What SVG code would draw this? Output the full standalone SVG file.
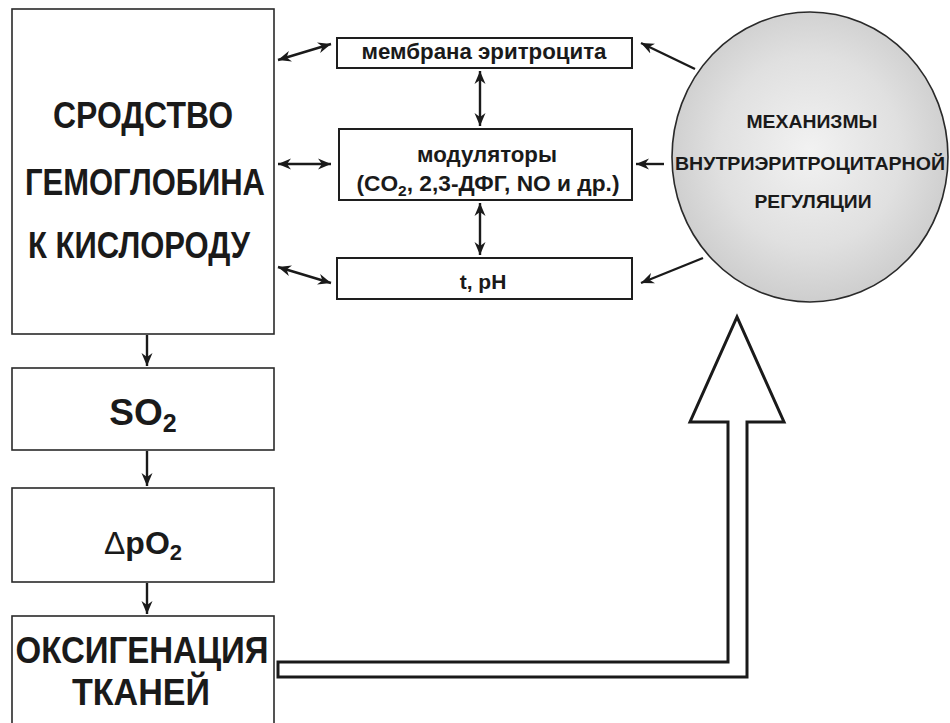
<svg xmlns="http://www.w3.org/2000/svg" width="950" height="723" viewBox="0 0 950 723">
  <defs>
    <radialGradient id="gCircle" cx="50%" cy="48%" r="55%">
      <stop offset="0" stop-color="#f2f2f2"/>
      <stop offset="0.6" stop-color="#e0e0e0"/>
      <stop offset="1" stop-color="#cbcbcb"/>
    </radialGradient>
    <marker id="arr" markerUnits="userSpaceOnUse" markerWidth="14" markerHeight="12" refX="13" refY="6" orient="auto-start-reverse">
      <path d="M0,0.5 L13,6 L0,11.5 L4,6 Z" fill="#1a1a1a"/>
    </marker>
  </defs>
  <style>
    .box { fill: #ffffff; stroke: #1e1e1e; stroke-width: 2; }
    .bigbox { fill: #ffffff; stroke: #2a2a2a; stroke-width: 1.6; }
    .t { font-family: "Liberation Sans", Arial, sans-serif; font-weight: bold; fill: #1a1a1a; text-anchor: middle; }
    .n { font-weight: normal; }
    .con { stroke: #1a1a1a; stroke-width: 2.4; fill: none; }
  </style>
  <rect width="950" height="723" fill="#ffffff"/>

  <g id="node-affinity">
    <rect class="bigbox" x="12" y="9" width="262" height="325"/>
    <text class="t" x="143" y="128" font-size="36" textLength="180" lengthAdjust="spacingAndGlyphs">СРОДСТВО</text>
    <text class="t" x="145" y="195" font-size="36" textLength="240" lengthAdjust="spacingAndGlyphs">ГЕМОГЛОБИНА</text>
    <text class="t" x="139" y="258" font-size="36" textLength="222" lengthAdjust="spacingAndGlyphs">К КИСЛОРОДУ</text>
  </g>

  <g id="node-membrane">
    <rect class="box" x="337" y="38" width="295" height="30"/>
    <text class="t" x="484" y="59" font-size="22" textLength="245" lengthAdjust="spacingAndGlyphs">мембрана эритроцита</text>
  </g>

  <g id="node-modulators">
    <rect class="box" x="339" y="129" width="293" height="71"/>
    <text class="t" x="487" y="162" font-size="22" textLength="140" lengthAdjust="spacingAndGlyphs">модуляторы</text>
    <text class="t" x="488" y="191" font-size="22" textLength="263" lengthAdjust="spacingAndGlyphs">(CO<tspan font-size="15" dy="5">2</tspan><tspan dy="-5">, 2,3-ДФГ, NO и др.)</tspan></text>
  </g>

  <g id="node-tph">
    <rect class="box" x="337" y="258" width="295" height="41"/>
    <text class="t" x="483" y="289" font-size="21">t, pH</text>
  </g>

  <g id="node-mechanisms">
    <ellipse cx="810" cy="157" rx="138" ry="145" fill="url(#gCircle)" stroke="#2a2a2a" stroke-width="1.6"/>
    <text class="t" x="812" y="128" font-size="19" textLength="131" lengthAdjust="spacingAndGlyphs">МЕХАНИЗМЫ</text>
    <text class="t" x="810" y="170" font-size="19" textLength="270" lengthAdjust="spacingAndGlyphs">ВНУТРИЭРИТРОЦИТАРНОЙ</text>
    <text class="t" x="813" y="208" font-size="19" textLength="117" lengthAdjust="spacingAndGlyphs">РЕГУЛЯЦИИ</text>
  </g>

  <g id="node-so2">
    <rect class="bigbox" x="12" y="368" width="262" height="82"/>
    <text class="t" x="143" y="425" font-size="37">SO<tspan font-size="25" dy="7">2</tspan></text>
  </g>

  <g id="node-dpo2">
    <rect class="bigbox" x="12" y="488" width="262" height="94"/>
    <text class="t" x="143" y="554" font-size="32"><tspan class="n">Δ</tspan>pO<tspan font-size="22" dy="6">2</tspan></text>
  </g>

  <g id="node-oxygenation">
    <rect class="bigbox" x="12" y="616" width="262" height="120"/>
    <text class="t" x="142" y="663" font-size="36" textLength="253" lengthAdjust="spacingAndGlyphs">ОКСИГЕНАЦИЯ</text>
    <text class="t" x="141" y="705" font-size="36" textLength="138" lengthAdjust="spacingAndGlyphs">ТКАНЕЙ</text>
  </g>

  <g id="connectors">
    <line class="con" x1="278" y1="60" x2="331" y2="44" marker-start="url(#arr)" marker-end="url(#arr)"/>
    <line class="con" x1="278" y1="164" x2="331" y2="164" marker-start="url(#arr)" marker-end="url(#arr)"/>
    <line class="con" x1="278" y1="267" x2="331" y2="283" marker-start="url(#arr)" marker-end="url(#arr)"/>
    <line class="con" x1="480" y1="71" x2="480" y2="126" marker-start="url(#arr)" marker-end="url(#arr)"/>
    <line class="con" x1="480" y1="203" x2="480" y2="255" marker-start="url(#arr)" marker-end="url(#arr)"/>
    <line class="con" x1="695" y1="69" x2="641" y2="43" marker-end="url(#arr)"/>
    <line class="con" x1="664" y1="164" x2="636" y2="164" stroke="#5e2a1e" marker-end="url(#arr)"/>
    <line class="con" x1="703" y1="258" x2="641" y2="283" marker-end="url(#arr)"/>
    <line class="con" x1="147" y1="335" x2="147" y2="366" stroke-width="2" marker-end="url(#arr)"/>
    <line class="con" x1="147" y1="451" x2="147" y2="486" stroke-width="2" marker-end="url(#arr)"/>
    <line class="con" x1="147" y1="583" x2="147" y2="614" stroke-width="2" marker-end="url(#arr)"/>
    <polygon points="278,662 728,662 728,422 690,422 737,317 784,422 747,422 747,677 278,677" fill="#ffffff" stroke="#1a1a1a" stroke-width="3" stroke-linejoin="miter"/>
  </g>
</svg>
